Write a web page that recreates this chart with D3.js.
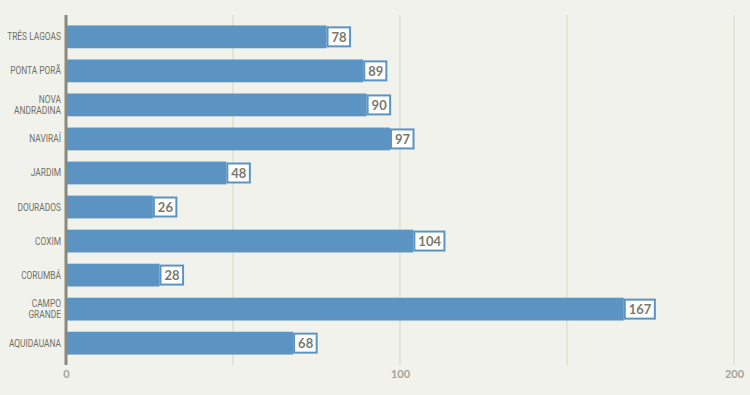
<!DOCTYPE html>
<html><head><meta charset="utf-8">
<script src="https://cdn.jsdelivr.net/npm/d3@7"></script>
<style>
html,body{margin:0;padding:0;background:#f2f2ec;}
</style></head>
<body>
<svg id="chart" width="750" height="395"></svg>
<script>
const categories = ["TRÊS LAGOAS","PONTA PORÃ","NOVA ANDRADINA","NAVIRAÍ","JARDIM","DOURADOS","COXIM","CORUMBÁ","CAMPO GRANDE","AQUIDAUANA"];
const labelLines = [["TRÊS LAGOAS"],["PONTA PORÃ"],["NOVA","ANDRADINA"],["NAVIRAÍ"],["JARDIM"],["DOURADOS"],["COXIM"],["CORUMBÁ"],["CAMPO","GRANDE"],["AQUIDAUANA"]];
const values = [78,89,90,97,48,26,104,28,167,68];
const tickValues = [0,100,200];
const gridValues = [50,100,150,200];

const svg = d3.select("#chart");
svg.append("rect").attr("width",750).attr("height",395).attr("fill","#f2f2ec");

const x = d3.scaleLinear().domain([0,200]).range([66,734]);
const y = d3.scaleBand().domain(categories).range([20,360]).paddingInner(0.33).paddingOuter(0.16);

// gridlines
svg.append("g").selectAll("line").data(gridValues).join("line")
  .attr("x1",d=>x(d)).attr("x2",d=>x(d))
  .attr("y1",15).attr("y2",365)
  .attr("stroke","#d3d7bd").attr("stroke-width",1);

// bars
svg.append("g").selectAll("rect").data(categories).join("rect")
  .attr("x",x(0)).attr("y",d=>y(d))
  .attr("width",(d,i)=>x(values[i])-x(0))
  .attr("height",y.bandwidth())
  .attr("fill","#5b94c2");

// value labels
const lg = svg.append("g").selectAll("g").data(categories).join("g")
  .attr("transform",(d,i)=>`translate(${x(values[i])},${y(d)+y.bandwidth()/2})`);
lg.append("text")
  .attr("class","val")
  .attr("x",5).attr("dy","0.36em")
  .attr("font-family","Lato, 'Open Sans', sans-serif")
  .attr("font-weight","bold").attr("font-size","13px")
  .attr("fill","#7a7a6c")
  .text((d,i)=>values[i]);
lg.each(function(){
  const g = d3.select(this);
  const t = g.select("text").node().getBBox();
  g.insert("rect","text")
    .attr("x",1).attr("y",-9.5)
    .attr("width",t.width+7).attr("height",19)
    .attr("fill","#ffffff").attr("stroke","#5b94c2").attr("stroke-width",2);
});

// category labels (condensed via horizontal scale)
const cl = svg.append("g").selectAll("text").data(categories).join("text")
  .attr("text-anchor","end")
  .attr("font-family","Roboto, 'Liberation Sans', sans-serif")
  .attr("font-size","10px")
  .attr("fill","#707064")
  .attr("transform",d=>`translate(61,${y(d)+y.bandwidth()/2}) scale(0.84,1)`);
cl.each(function(d,i){
  const lines = labelLines[i];
  const n = lines.length;
  d3.select(this).selectAll("tspan").data(lines).join("tspan")
    .attr("x",0)
    .attr("y",(l,j)=>(j-(n-1)/2)*11.5)
    .attr("dy","0.35em")
    .text(l=>l);
});

// axis line
svg.append("line").attr("x1",x(0)).attr("x2",x(0)).attr("y1",15).attr("y2",365)
  .attr("stroke","#8a8a7c").attr("stroke-width",3);

// tick labels
const axis = d3.axisBottom(x).tickValues(tickValues).tickSize(0).tickPadding(0);
const ag = svg.append("g").attr("transform","translate(0,370)").call(axis);
ag.select(".domain").remove();
ag.selectAll("text")
  .attr("dy","0.71em")
  .attr("font-family","Lato, 'Open Sans', sans-serif")
  .attr("font-size","11px")
  .attr("font-weight","bold")
  .attr("fill","#a3a39a");
</script>
</body></html>
